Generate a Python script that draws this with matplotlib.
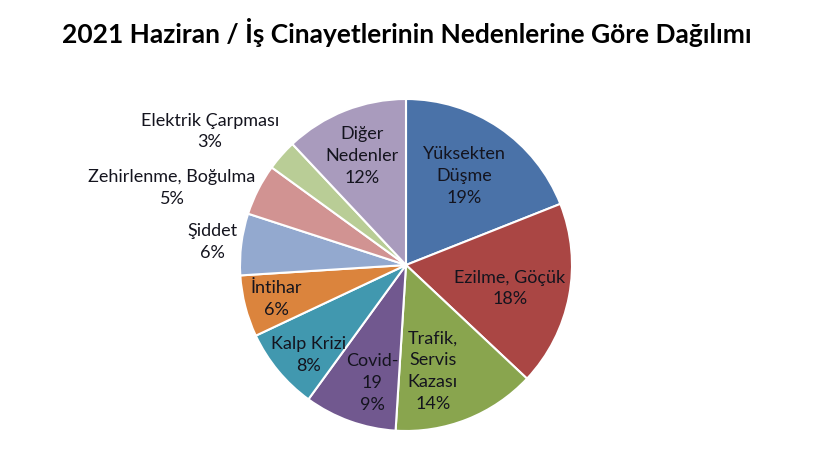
import matplotlib
matplotlib.use('Agg')
import matplotlib.pyplot as plt
import numpy as np

plt.rcParams['font.family'] = ['Lato', 'DejaVu Sans']

# data (percent)
causes = ['Yüksekten\nDüşme', 'Ezilme, Göçük', 'Trafik,\nServis\nKazası', 'Covid-\n19',
          'Kalp Krizi', 'İntihar', 'Şiddet', 'Zehirlenme, Boğulma',
          'Elektrik Çarpması', 'Diğer\nNedenler']
shares = [19, 18, 14, 9, 8, 6, 6, 5, 3, 12]
colors = ['#4A72A8', '#AA4644', '#89A54E', '#71588F', '#4198AF',
          '#DB843D', '#93A9CF', '#D19392', '#B9CD96', '#A99BBD']

# label placement: radial distance (fraction of radius) and angle nudge (deg)
label_dist = [0.64, 0.64, 0.66, 0.74, 0.80, 0.81, 1.175, 1.485, 1.43, 0.71]
label_nudge = [1, -2, -7.4, 3.8, 2.9, 0.3, 0.4, 8.7, 7.2, 0.4]

fig = plt.figure(figsize=(8.2, 4.74), dpi=100)
ax = fig.add_axes([0, 0, 1, 1])
ax.axis('off')

cx, cy, r = 406, 209, 166
wedges, _ = ax.pie(shares, colors=colors, startangle=90, counterclock=False,
                   center=(cx, cy), radius=r,
                   wedgeprops=dict(edgecolor='white', linewidth=1.5))
ax.set_xlim(0, 820)
ax.set_ylim(0, 474)
ax.set_aspect('equal')

for w, name, val, d, nud in zip(wedges, causes, shares, label_dist, label_nudge):
    mid = np.deg2rad((w.theta1 + w.theta2) / 2 + nud)
    x = cx + d * r * np.cos(mid)
    y = cy + d * r * np.sin(mid)
    ax.text(x, y, f'{name}\n{val}%', ha='center', va='center',
            fontsize=13, color='#14141e', linespacing=1.45)

fig.text(0.496, 0.932, '2021 Haziran / İş Cinayetlerinin Nedenlerine Göre Dağılımı',
         ha='center', va='center', fontsize=19.0, fontweight='bold', color='black')

fig.savefig('out.png', dpi=100)
